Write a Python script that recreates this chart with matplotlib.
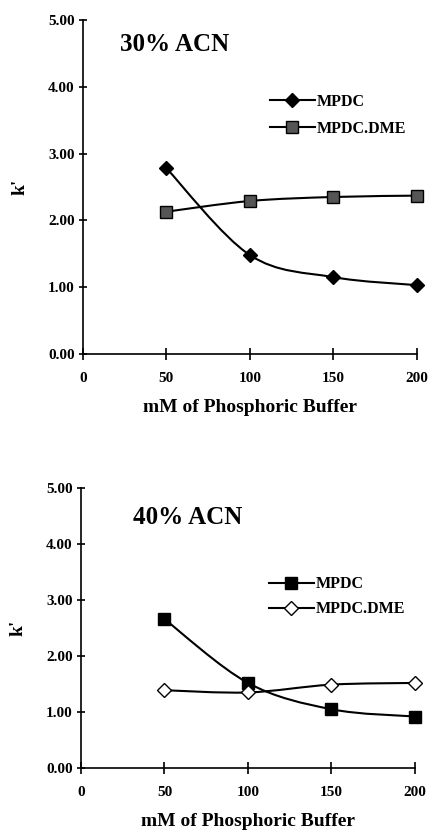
import matplotlib
matplotlib.use("Agg")
import matplotlib.pyplot as plt
import numpy as np
from matplotlib.path import Path
from matplotlib.patches import PathPatch
from matplotlib.lines import Line2D

plt.rcParams['font.family'] = ['Liberation Serif', 'DejaVu Serif']
plt.rcParams['font.weight'] = 'bold'

# data
buffer_mM = [50, 100, 150, 200]
acn30_mpdc = [2.78, 1.48, 1.15, 1.03]
acn30_dme = [2.13, 2.29, 2.35, 2.37]
acn40_mpdc = [2.66, 1.52, 1.05, 0.92]
acn40_dme = [1.39, 1.35, 1.49, 1.52]

x_ticks = [0, 50, 100, 150, 200]
y_ticks = [0, 1, 2, 3, 4, 5]


# smoothed line like a spreadsheet "smoothed line" chart (bezier through the points)
def smooth_path(x, y):
    p = np.column_stack([x, y]).astype(float)
    verts = [p[0]]
    codes = [Path.MOVETO]
    n = len(p)
    for i in range(n - 1):
        p0 = p[i - 1] if i > 0 else p[i]
        p1 = p[i]
        p2 = p[i + 1]
        p3 = p[i + 2] if i + 2 < n else p[i + 1]
        verts += [p1 + (p2 - p0) / 6, p2 - (p3 - p1) / 6, p2]
        codes += [Path.CURVE4] * 3
    return Path(verts, codes)


def draw_series(ax, x, y, marker, face):
    ax.add_patch(PathPatch(smooth_path(x, y), facecolor='none', edgecolor='black',
                           lw=1.5, zorder=2))
    ax.plot(x, y, ls='none', marker=marker, ms=7 if marker == 'D' else 8,
            mfc=face, mec='black', mew=1.0, zorder=3, clip_on=False)


def style_axes(ax, title, tx, ty):
    ax.set_xlim(0, 200)
    ax.set_ylim(0, 5)
    ax.set_xticks(x_ticks)
    ax.set_yticks(y_ticks)
    ax.set_xticklabels([str(v) for v in x_ticks])
    ax.set_yticklabels([f"{v:.2f}" for v in y_ticks])
    for s in ['top', 'right']:
        ax.spines[s].set_visible(False)
    ax.spines['left'].set_linewidth(1.2)
    ax.spines['bottom'].set_linewidth(1.2)
    ax.tick_params(axis='x', direction='inout', length=8, width=1.2, pad=9, labelsize=11)
    ax.tick_params(axis='y', direction='inout', length=6, width=1.2, pad=3, labelsize=11)
    ax.set_xlabel("mM of Phosphoric Buffer", fontsize=14, fontweight='bold', labelpad=10)
    ax.set_ylabel("k'", fontsize=14, fontweight='bold', labelpad=14)
    ax.text(tx, ty, title, fontsize=18, fontweight='bold', va='center', ha='left')


fig = plt.figure(figsize=(4.32, 8.38), dpi=100)
legend_font = {'family': 'Liberation Serif', 'weight': 'bold', 'size': 11.5}

# 30% ACN
ax1 = fig.add_axes([0.192, 0.5776, 0.773, 0.3986])
draw_series(ax1, buffer_mM, acn30_mpdc, 'D', 'black')
draw_series(ax1, buffer_mM, acn30_dme, 's', '#555555')
style_axes(ax1, "30% ACN", 22, 4.63)
h1 = [Line2D([], [], color='black', lw=1.5, marker='D', ms=7, mfc='black', mec='black'),
      Line2D([], [], color='black', lw=1.5, marker='s', ms=8, mfc='#555555', mec='black')]
ax1.legend(h1, ['MPDC', 'MPDC.DME'], loc='center left', bbox_to_anchor=(0.56, 0.715),
           frameon=False, handlelength=2.8, handletextpad=0.1, labelspacing=0.7,
           borderaxespad=0, borderpad=0, prop=legend_font)

# 40% ACN
ax2 = fig.add_axes([0.1875, 0.0835, 0.773, 0.334])
draw_series(ax2, buffer_mM, acn40_mpdc, 's', 'black')
draw_series(ax2, buffer_mM, acn40_dme, 'D', 'white')
style_axes(ax2, "40% ACN", 31, 4.48)
h2 = [Line2D([], [], color='black', lw=1.5, marker='s', ms=8, mfc='black', mec='black'),
      Line2D([], [], color='black', lw=1.5, marker='D', ms=7, mfc='white', mec='black')]
ax2.legend(h2, ['MPDC', 'MPDC.DME'], loc='center left', bbox_to_anchor=(0.563, 0.612),
           frameon=False, handlelength=2.8, handletextpad=0.1, labelspacing=0.55,
           borderaxespad=0, borderpad=0, prop=legend_font)

fig.savefig("out.png", dpi=100)
